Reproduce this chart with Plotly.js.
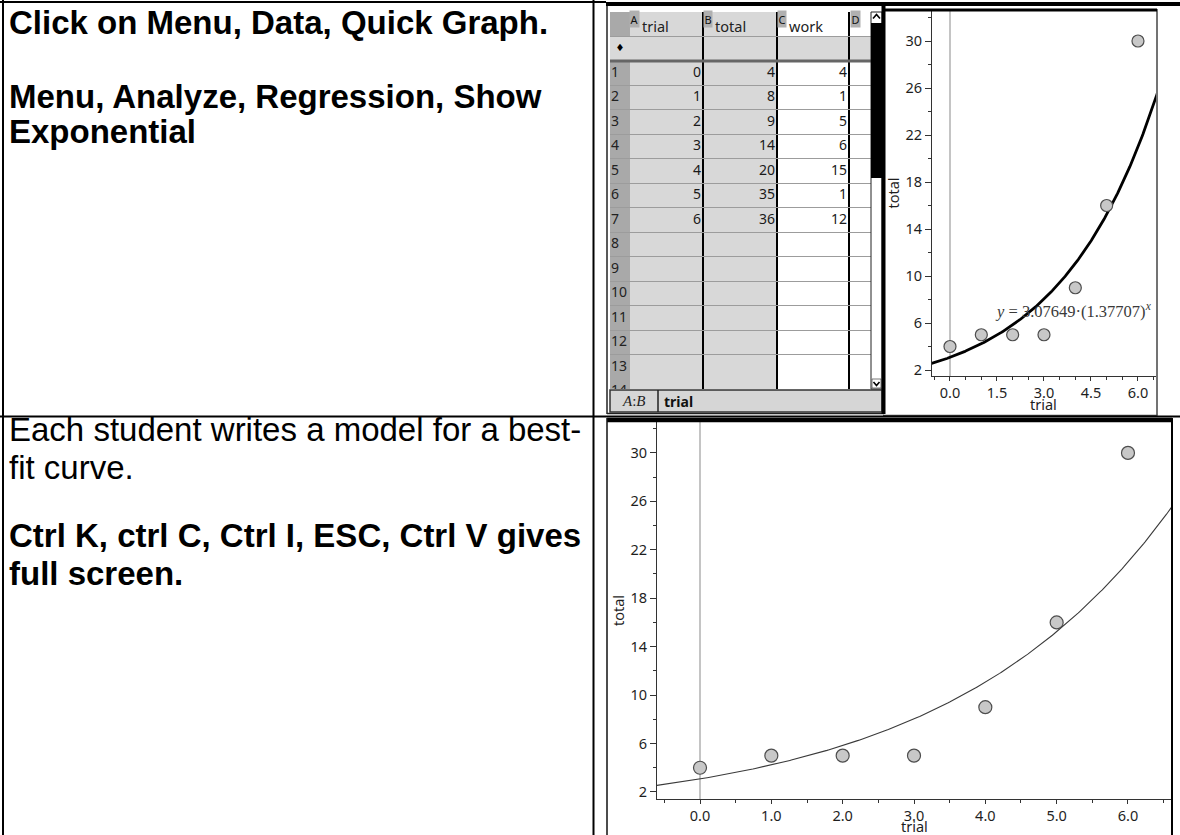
<!DOCTYPE html>
<html>
<head>
<meta charset="utf-8">
<script src="https://cdn.plot.ly/plotly-3.0.1.min.js"></script>
<style>
html,body{margin:0;padding:0;background:#fff;}
#chart{width:1180px;height:835px;}
</style>
</head>
<body>
<div id="chart"></div>
<script>
// ---------- DATA ----------
// Lists & Spreadsheet page
const rowLabels = ['1','2','3','4','5','6','7','8','9','10','11','12','13','14'];
const colLetters = ['A','B','C','D'];
const colNames = ['trial','total','work'];
const sheetTrial = [0,1,2,3,4,5,6];
const sheetTotal = [4,8,9,14,20,35,36];
const sheetWork = [4,1,5,6,15,1,12];
// Data & Statistics graph (points as plotted)
const plotTrial = [0,1,2,3,4,5,6];
const plotTotal = [4,5,5,5,9,16,30];
const xTitle = 'trial';
const yTitle = 'total';
// Exponential regression shown on the graph: y = a*(b)^x
const regA = 3.07649;
const regB = 1.37707;
// Instruction text in the left column
const cell1Lines = ['Click on Menu, Data, Quick Graph.', 'Menu, Analyze, Regression, Show', 'Exponential'];
const cell2Lines = ['Each student writes a model for a best-', 'fit curve.', 'Ctrl K, ctrl C, Ctrl I, ESC, Ctrl V gives', 'full screen.'];
const cell2Bold = [false, false, true, true];
const statusCell = 'A:B';
const statusValue = 'trial';

// ---------- HELPERS ----------
const W = 1180, H = 835;
const px = x => x / W;
const py = y => 1 - y / H;
function pLine(x0, y0, x1, y1, width, color, layer) {
  return {type:'line', xref:'paper', yref:'paper', x0:px(x0), y0:py(y0), x1:px(x1), y1:py(y1),
          line:{color:color, width:width}, layer: layer || 'above'};
}
function pRect(x0, y0, x1, y1, fill, lc, lw, layer) {
  return {type:'rect', xref:'paper', yref:'paper', x0:px(x0), y0:py(y0), x1:px(x1), y1:py(y1),
          fillcolor:fill, line:{color:lc || fill, width:lw || 0}, layer: layer || 'above'};
}
function pPath(points, width, color) {
  const d = points.map((p, i) => (i ? 'L' : 'M') + px(p[0]) + ',' + py(p[1])).join(' ');
  return {type:'path', xref:'paper', yref:'paper', path:d, line:{color:color, width:width}, layer:'above'};
}
function sRect(x0, y0, x1, y1, fill) {
  return {type:'rect', xref:'x3', yref:'y3', x0:x0, y0:y0, x1:x1, y1:y1, fillcolor:fill, line:{width:0}, layer:'below'};
}

// ---------- SPREADSHEET (drawn on its own axes) ----------
const colEdges = [0, 20, 93, 167, 239, 261]; // row-number col, A, B, C, D
const sheetRows = 15.39;
const sheetCols = [sheetTrial, sheetTotal, sheetWork];
const valX = [], valY = [], valT = [];
sheetCols.forEach((col, ci) => col.forEach((v, ri) => {
  valX.push(colEdges[ci + 2] - 2); valY.push(ri + 2.5); valT.push(String(v));
}));
const rowX = rowLabels.map(() => 1);
const rowY = rowLabels.map((r, i) => i + 2.5);
const headX = colNames.map((n, i) => colEdges[i + 1] + 12);
const headY = colNames.map(() => 0.66);

const sheetFont = {family:'Noto Sans, sans-serif', size:14, color:'#1a1a1a'};
const traces = [
  {type:'scatter', mode:'text', x:valX, y:valY, text:valT, textposition:'middle left',
   textfont:sheetFont, xaxis:'x3', yaxis:'y3', hoverinfo:'skip'},
  {type:'scatter', mode:'text', x:rowX, y:rowY, text:rowLabels, textposition:'middle right',
   textfont:{family:'Noto Sans, sans-serif', size:14, color:'#222'}, xaxis:'x3', yaxis:'y3', hoverinfo:'skip'},
  {type:'scatter', mode:'text', x:[10], y:[1.5], text:['\u2666'], textposition:'middle center',
   textfont:{family:'DejaVu Sans', size:10, color:'#000'}, xaxis:'x3', yaxis:'y3', hoverinfo:'skip'},
  {type:'scatter', mode:'text', x:headX, y:headY, text:colNames, textposition:'middle right',
   textfont:{family:'Noto Sans, sans-serif', size:14.5, color:'#222'}, xaxis:'x3', yaxis:'y3', hoverinfo:'skip'}
];

// ---------- GRAPHS ----------
const curveX = [];
for (let i = 0; i <= 370; i++) curveX.push(-0.7 + i * 0.02);
const curveY = curveX.map(x => regA * Math.pow(regB, x));

const markerStyle = (s) => ({size:s, color:'#c8c8c8', line:{color:'#4d4d4d', width:1.2}});
traces.push(
  {type:'scatter', mode:'lines', x:curveX, y:curveY, line:{color:'#000', width:2.8}, xaxis:'x', yaxis:'y', hoverinfo:'skip'},
  {type:'scatter', mode:'markers', x:plotTrial, y:plotTotal, marker:markerStyle(12), xaxis:'x', yaxis:'y', hoverinfo:'skip'},
  {type:'scatter', mode:'lines', x:curveX, y:curveY, line:{color:'#3a3a3a', width:1.1}, xaxis:'x2', yaxis:'y2', hoverinfo:'skip'},
  {type:'scatter', mode:'markers', x:plotTrial, y:plotTotal, marker:markerStyle(13), xaxis:'x2', yaxis:'y2', hoverinfo:'skip'}
);

const tickFont = {family:'Noto Sans, sans-serif', size:14.5, color:'#1e1e1e'};
function xAx(domain, range, dtick, anchor) {
  return {domain:domain, range:range, anchor:anchor, tick0:0, dtick:dtick, tickformat:'.1f',
    ticks:'outside', ticklen:4, tickwidth:1, tickcolor:'#333',
    minor:{ticks:'outside', tick0:0, dtick:0.5, ticklen:3, tickcolor:'#333', showgrid:false},
    showline:true, linecolor:'#333', linewidth:1, showgrid:false,
    zeroline:true, zerolinecolor:'#c4c4c4', zerolinewidth:1.6,
    tickfont:tickFont, fixedrange:true};
}
function yAx(domain, range, anchor) {
  return {domain:domain, range:range, anchor:anchor, tick0:2, dtick:4,
    ticks:'outside', ticklen:6, tickwidth:1, tickcolor:'#333',
    minor:{ticks:'outside', tick0:0, dtick:2, ticklen:3, tickcolor:'#333', showgrid:false},
    showline:true, linecolor:'#333', linewidth:1, showgrid:false, zeroline:false,
    tickfont:tickFont, title:{text:yTitle, standoff:2, font:tickFont}, fixedrange:true};
}

// ---------- SHAPES ----------
const shapes = [
  // spreadsheet cell colours
  sRect(colEdges[0], 0, colEdges[1], sheetRows, '#a9a9a9'),
  sRect(colEdges[0], 1, colEdges[1], 2, '#d9d9d9'),
  sRect(colEdges[1], 0, colEdges[3], sheetRows, '#d8d8d8'),
  sRect(colEdges[3], 1, colEdges[5], 2, '#d8d8d8'),
  {type:'line', xref:'x3', yref:'y3', x0:colEdges[0], x1:colEdges[5], y0:2, y1:2, line:{color:'#666', width:3}, layer:'above'},
  // scrollbar
  pRect(871, 12, 882, 389, '#ffffff', '#222', 1),
  pRect(871, 23, 882, 178, '#000000', '#000', 0),
  pPath([[873, 18.5], [876.5, 14.5], [880, 18.5]], 1.6, '#000'),
  pRect(872, 379, 881, 388, '#ffffff', '#555', 0.8),
  pPath([[873.5, 382], [876.5, 385.5], [879.5, 382]], 1.6, '#000'),
  // status bar
  pRect(610, 390, 882, 412, '#d6d6d6', '#333', 1.5),
  pLine(658, 390, 658, 412, 1.5, '#222'),
  // spreadsheet screenshot borders
  pLine(607, 3, 607, 414, 1.5, '#222'),
  pLine(607, 413.5, 884, 413.5, 1.5, '#222'),
  pLine(883.5, 3, 883.5, 414, 4, '#000'),
  // top graph frame
  pLine(1157, 9, 1157, 415.5, 1.5, '#444'),
  pLine(883, 415.5, 1157.5, 415.5, 1.5, '#444'),
  pLine(884, 10, 1157, 10, 3, '#000'),
  // outer table lines
  pLine(0, 2, 606, 2, 2, '#000'),
  pLine(606, 4, 1180, 4, 4, '#000'),
  pLine(3, 0, 3, 835, 2, '#000'),
  pLine(593.5, 0, 593.5, 835, 2, '#000'),
  pLine(0, 416.5, 1180, 416.5, 2, '#000'),
  // bottom graph frame
  pLine(607, 420, 1172, 420, 4.5, '#000'),
  pLine(607, 418, 607, 835, 1.5, '#111'),
  pLine(1172, 418, 1172, 835, 2, '#000')
];

// ---------- ANNOTATIONS ----------
const annotations = [];
const textFont = {family:'Liberation Sans, Arial, sans-serif', size:33, color:'#000'};
const cell1Y = [22, 96, 132];
cell1Lines.forEach((t, i) => annotations.push({xref:'paper', yref:'paper', x:px(7), y:py(cell1Y[i]),
  xanchor:'left', yanchor:'middle', showarrow:false, text:'<b>' + t + '</b>', font:textFont}));
const cell2Y = [430, 467, 535, 573];
cell2Lines.forEach((t, i) => annotations.push({xref:'paper', yref:'paper', x:px(7), y:py(cell2Y[i]),
  xanchor:'left', yanchor:'middle', showarrow:false, text: cell2Bold[i] ? '<b>' + t + '</b>' : t, font:textFont}));
// column letters in the spreadsheet header
const letterX = [24.5, 98, 171.5, 245];
colLetters.forEach((L, i) => annotations.push({xref:'x3', yref:'y3', x:letterX[i], y:0.27, showarrow:false,
  xanchor:'center', yanchor:'middle',
  text:L, font:{family:'Noto Sans, sans-serif', size:11, color:'#111'}, bgcolor:'#b0b0b0', borderpad:0.5}));
// status bar
annotations.push({xref:'paper', yref:'paper', x:px(634), y:py(401), xanchor:'center', yanchor:'middle', showarrow:false,
  text:'<i>' + statusCell.split(':').join('</i>:<i>') + '</i>', font:{family:'Liberation Serif, serif', size:15, color:'#222'}});
annotations.push({xref:'paper', yref:'paper', x:px(662), y:py(401), xanchor:'left', yanchor:'middle', showarrow:false,
  text:'<b>' + statusValue + '</b>', font:{family:'Noto Sans, sans-serif', size:14, color:'#111'}});
// x-axis titles (sit tight under the tick labels, as on the handheld)
annotations.push({xref:'x', yref:'paper', x:3, y:py(404), xanchor:'center', yanchor:'middle', showarrow:false, text:xTitle, font:tickFont});
annotations.push({xref:'x2', yref:'paper', x:3, y:py(826), xanchor:'center', yanchor:'middle', showarrow:false, text:xTitle, font:tickFont});
// regression equation on the top graph
annotations.push({xref:'x', yref:'y', x:6.52, y:7.1, xanchor:'right', yanchor:'middle', showarrow:false,
  text:'<i>y</i> = ' + regA.toFixed(5) + '\u00b7(' + regB.toFixed(5) + ')<sup><i>x</i></sup>',
  font:{family:'Liberation Serif, serif', size:16.5, color:'#3a3a3a'}});

const layout = {
  width:W, height:H, margin:{l:0, r:0, t:0, b:0},
  paper_bgcolor:'#fff', plot_bgcolor:'rgba(0,0,0,0)',
  showlegend:false, hovermode:false,
  font:{family:'Noto Sans, sans-serif'},
  xaxis: xAx([px(932), px(1156)], [-0.574, 6.575], 1.5, 'y'),
  yaxis: yAx([py(376), py(10)], [1.49, 32.64], 'x'),
  xaxis2: xAx([px(657), px(1171)], [-0.603, 6.603], 1, 'y2'),
  yaxis2: yAx([py(799), py(422)], [1.42, 32.55], 'x2'),
  xaxis3: {domain:[px(610), px(871)], range:[0, 261], anchor:'y3', tickvals:colEdges.slice(2, 5),
    showgrid:true, gridcolor:'#000', gridwidth:1.2, showticklabels:false, ticks:'', zeroline:false, showline:false, fixedrange:true},
  yaxis3: {domain:[py(389), py(12)], range:[sheetRows, 0], anchor:'x3', tickvals:rowLabels.map((r, i) => i + 1),
    showgrid:true, gridcolor:'#9c9c9c', gridwidth:1, showticklabels:false, ticks:'', zeroline:false, showline:false, fixedrange:true},
  shapes: shapes,
  annotations: annotations
};

Plotly.newPlot('chart', traces, layout, {staticPlot:true, displayModeBar:false});
</script>
</body>
</html>
